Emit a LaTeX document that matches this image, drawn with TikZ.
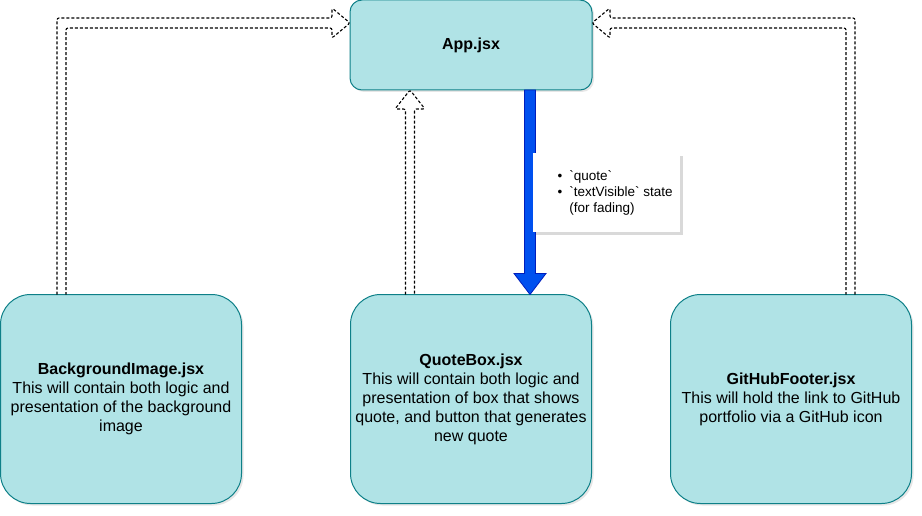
\documentclass[tikz,border=0pt]{standalone}
\usepackage{fontspec}
\setmainfont{Liberation Sans}
\usetikzlibrary{calc,shadows}
\definecolor{BoxFill}{HTML}{B0E3E6}
\definecolor{BoxLine}{HTML}{0E8088}
\definecolor{FlowBlue}{HTML}{0050EF}
\definecolor{FlowLine}{HTML}{001DBC}

\begin{document}
\begin{tikzpicture}[x=1pt,y=-1pt,
  comp/.style={draw=BoxLine,line width=1pt,fill=BoxFill,rounded corners=30pt,
    minimum width=241pt,minimum height=209pt,align=center,outer sep=0pt,
    font=\fontsize{16}{19}\selectfont,
    drop shadow={shadow xshift=2pt,shadow yshift=-2pt,opacity=0.2}},
  flex/.style={draw=black,line width=1.1pt,dash pattern=on 3pt off 2pt,rounded corners=2pt},
  flow/.style={fill=FlowBlue,draw=FlowLine,line width=0.8pt},
  note/.style={fill=white,minimum width=147pt,minimum height=79pt,outer sep=0pt,
    drop shadow={shadow xshift=3pt,shadow yshift=-3pt,opacity=0.3}}]
  \useasboundingbox (0,0) rectangle (922,516);

  % components
  \node[comp,rounded corners=12pt,minimum width=242pt,minimum height=90pt] (app) at (471,45)
    {\textbf{App.jsx}};
  \node[comp] (bg) at (121,399)
    {\textbf{BackgroundImage.jsx}\\This will contain both logic and\\presentation of the background\\image};
  \node[comp] (qb) at (471,399)
    {\textbf{QuoteBox.jsx}\\This will contain both logic and\\presentation of box that shows\\quote, and button that generates\\new quote};
  \node[comp] (gh) at (791,399)
    {\textbf{GitHubFooter.jsx}\\This will hold the link to GitHub\\portfolio via a GitHub icon};

  % hollow dashed arrows up to App.jsx
  \draw[flex] ($(bg.north west)+(56.5,0)$) |- ($(app.north west)+(-18,18)$) -- ++(0,-10)
    -- ($(app.west)+(0,-22)$) -- ++(-18,15) -- ++(0,-10) -| ($(bg.north west)+(65.5,0)$);
  \draw[flex] ($(gh.north east)+(-56.5,0)$) |- ($(app.north east)+(18,18)$) -- ++(0,-10)
    -- ($(app.east)+(0,-22)$) -- ++(18,15) -- ++(0,-10) -| ($(gh.north east)+(-65.5,0)$);
  \draw[flex] ($(qb.north west)+(55,0)$) -- ($(app.south west)+(55.5,19)$) -- ++(-10.5,0)
    -- ($(app.south west)+(60,0)$) -- ++(15,19) -- ++(-10.5,0) -- ($(qb.north west)+(64,0)$);

  % state passed down
  \filldraw[flow] ($(app.south west)+(174.5,0)$) -- ($(qb.north west)+(174,-21)$) -- ++(-10.5,0)
    -- ($(qb.north west)+(179.5,0)$) -- ++(16,-21) -- ++(-10.5,0)
    -- ($(app.south west)+(185.5,0)$) -- cycle;
  \node[note] (note) at (606,192.5) {};
  \node[anchor=west,inner sep=0pt,font=\fontsize{13.5}{16}\selectfont] (notetext) at ($(note.west)+(25,1)$)
    {\begin{tabular}{@{}l@{\hspace{7pt}}l@{}}
      \textbullet & \textasciigrave quote\textasciigrave\\
      \textbullet & \textasciigrave textVisible\textasciigrave{} state\\
                  & (for fading)
     \end{tabular}};
\end{tikzpicture}
\end{document}
